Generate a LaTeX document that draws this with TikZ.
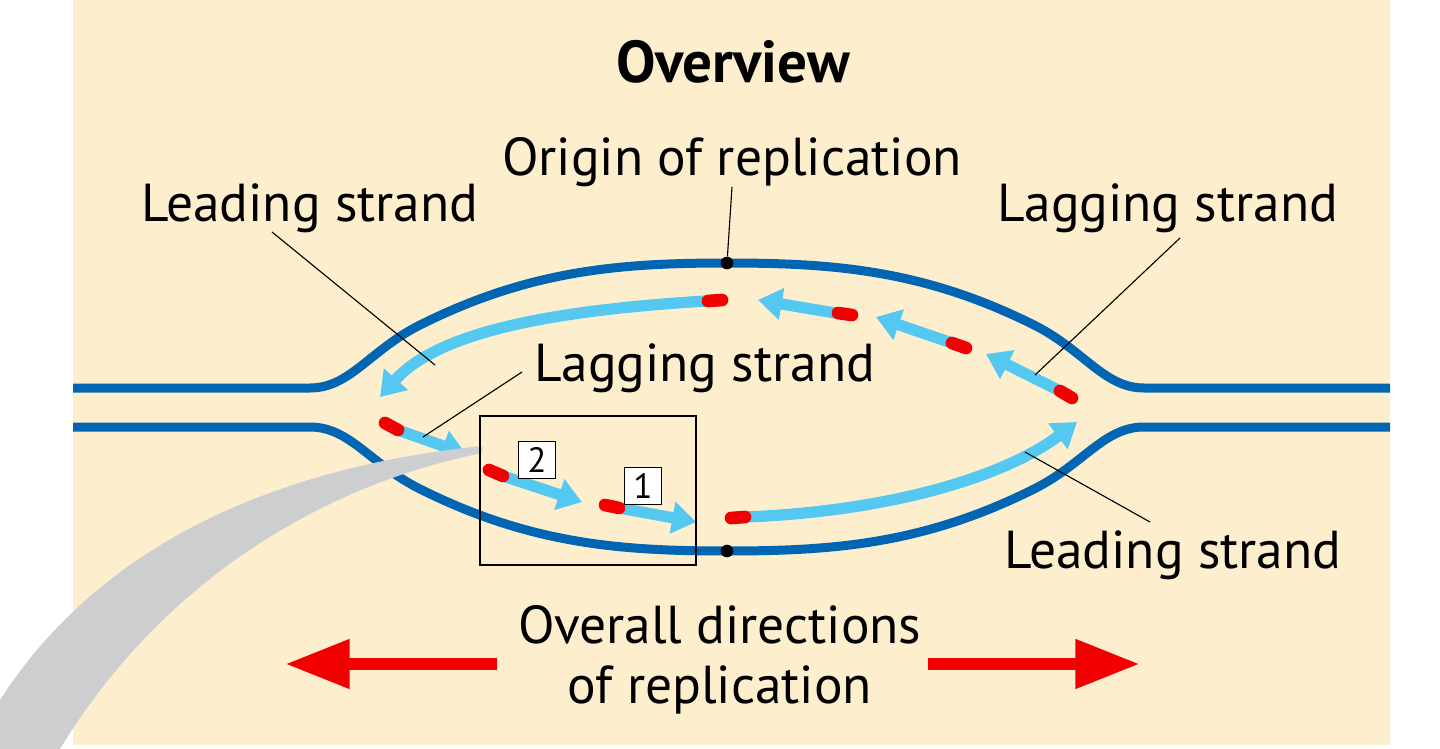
\documentclass[tikz,border=0pt]{standalone}
\usepackage{fontspec}
\setmainfont{PT Sans}
\usetikzlibrary{arrows.meta}
\definecolor{bg}{RGB}{253,239,206}
\definecolor{dna}{RGB}{0,101,179}
\definecolor{lb}{RGB}{84,200,240}
\definecolor{rd}{RGB}{240,0,0}
\definecolor{gr}{RGB}{205,206,208}
\begin{document}
\begin{tikzpicture}[x=0.025cm,y=-0.025cm,
  dna/.style={draw=dna,line width=6.4pt},
  new/.style={draw=lb,line width=8pt,-{Triangle[length=17pt,width=22pt]}},
  rcap/.style={draw=rd,line width=9pt,line cap=round},
  lead/.style={draw=black,line width=0.8pt},
  lbl/.style={font=\fontsize{38}{41}\selectfont,inner sep=0pt},
  num/.style={draw=black,fill=white,line width=0.8pt,font=\fontsize{25}{27}\selectfont,inner sep=2pt,minimum size=26pt}]
\useasboundingbox (0,0) rectangle (1440,749);
\fill[bg] (73,0) rectangle (1390,745);
% parental strands
\draw[dna] (73,388) -- (310,388) .. controls (350,388) and (370,350) .. (420,325) .. controls (530,270) and (620,263) .. (727,263)
  .. controls (834,263) and (924,270) .. (1034,325) .. controls (1084,350) and (1104,388) .. (1144,388) -- (1390,388);
\draw[dna] (73,427) -- (310,427) .. controls (350,427) and (370,464) .. (420,489) .. controls (530,544) and (620,551) .. (727,551)
  .. controls (834,551) and (924,544) .. (1034,489) .. controls (1084,464) and (1104,427) .. (1144,427) -- (1390,427);
\node[circle,fill=black,inner sep=0pt,minimum size=9pt] (o1) at (727,263) {};
\node[circle,fill=black,inner sep=0pt,minimum size=9pt] (o2) at (727,551) {};
% upper leading
\draw[new] (706,301) .. controls (560,310) and (440,330) .. (380,397);
\draw[rcap] (708,301) -- (722,300);
% upper lagging
\draw[new] (835,313) -- (758,300);
\draw[rcap] (838,313) -- (852,315);
\draw[new] (952,343) -- (876,317);
\draw[rcap] (952,343) -- (966,348);
\draw[new] (1058,390) -- (986,354);
\draw[rcap] (1060,391) -- (1072,398);
% lower lagging
\draw[new] (398,430) -- (466,454);
\draw[rcap] (385,423) -- (398,430);
\draw[new] (503,476) -- (582,502);
\draw[rcap] (489,470) -- (503,476);
\draw[new] (619,508) -- (696,522);
\draw[rcap] (605,505) -- (619,508);
% lower leading
\draw[new] (745,517) .. controls (880,512) and (1000,480) .. (1077,422);
\draw[rcap] (731,518) -- (745,517);
% swoosh
\fill[gr] (482,446) .. controls (250,470) and (90,560) .. (0,700) -- (0,749) -- (60,749) .. controls (150,600) and (300,490) .. (482,453) -- cycle;
% box
\draw[line width=1pt] (480,416) rectangle (696,565);
\node[num] (n2) at (537,460) {2};
\node[num] (n1) at (643,486) {1};
% labels
\node[lbl,font=\fontsize{42}{45}\selectfont\bfseries] (ov) at (733,62) {Overview};
\node[lbl] (ori) at (732,162) {Origin of replication};
\node[lbl] (ls1) at (310,208) {Leading strand};
\node[lbl] (lg1) at (1168,208) {Lagging strand};
\node[lbl] (lg2) at (705,368) {Lagging strand};
\node[lbl] (ls2) at (1173,555) {Leading strand};
\node[lbl,align=center,font=\fontsize{38}{43}\selectfont] (od) at (720,660) {Overall directions\\of replication};
\coordinate (p1) at (435,365);
\coordinate (p2) at (1035,375);
\coordinate (p3) at (423,437);
\coordinate (p4) at (1025,452);
\draw[lead] (ori.south) -- (o1);
\draw[lead] (272,232) -- (p1);
\draw[lead] (1180,238) -- (p2);
\draw[lead] (522,372) -- (p3);
\draw[lead] (1150,522) -- (p4);
% direction arrows
\coordinate (al) at (285,664);
\coordinate (ar) at (1140,664);
\draw[draw=rd,line width=9pt,-{Triangle[length=46pt,width=33pt]}] (497,664) -- (al);
\draw[draw=rd,line width=9pt,-{Triangle[length=46pt,width=33pt]}] (928,664) -- (ar);
\end{tikzpicture}
\end{document}
